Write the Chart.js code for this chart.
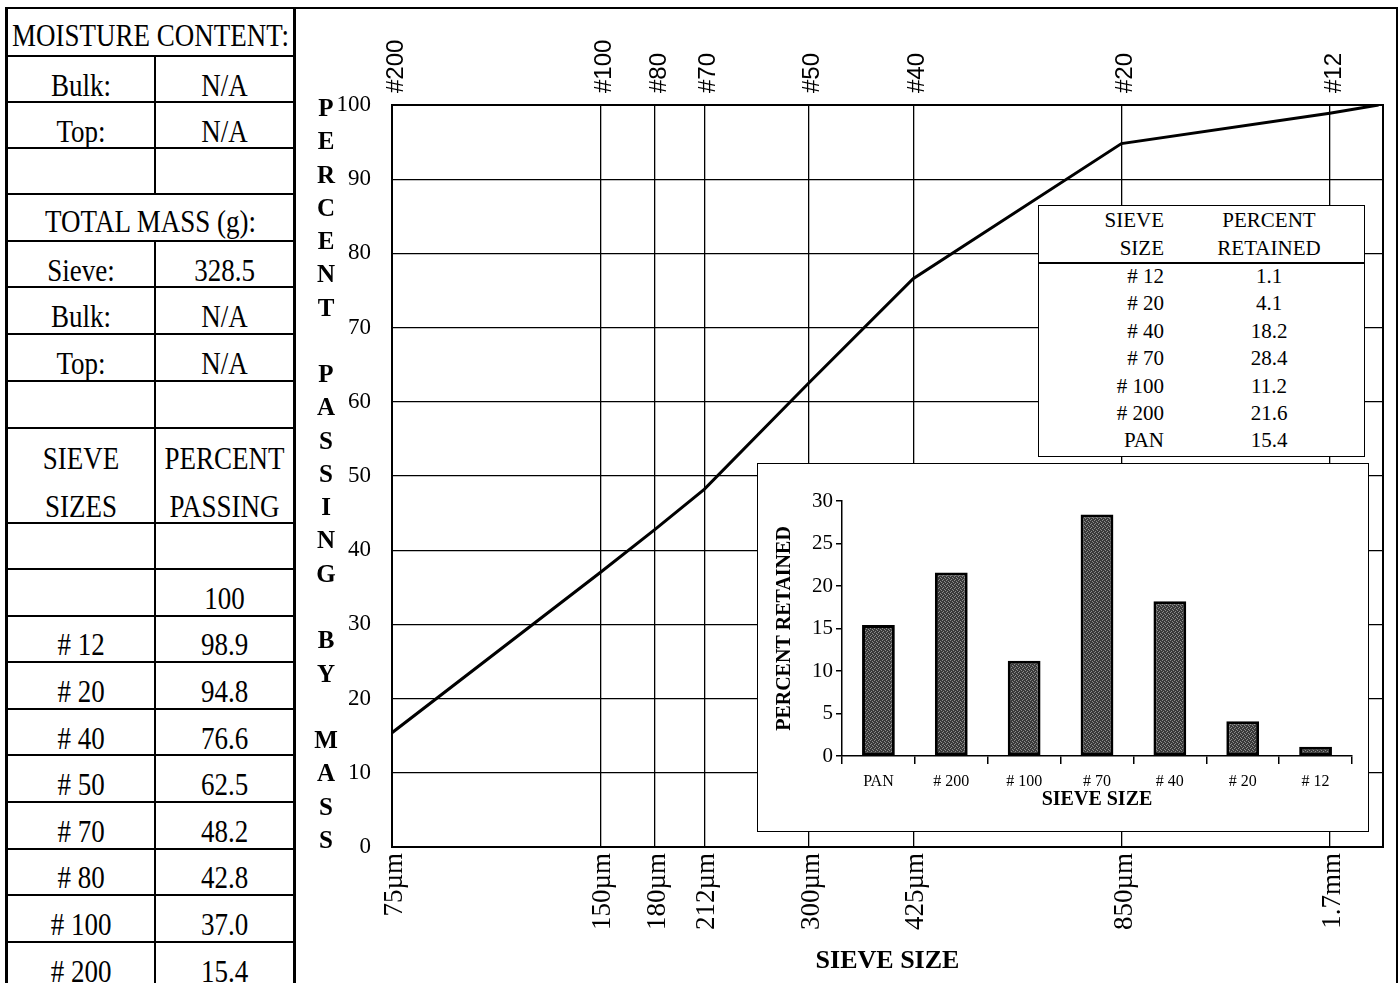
<!DOCTYPE html>
<html><head><meta charset="utf-8">
<script src="https://cdn.jsdelivr.net/npm/chart.js@4.4.1/dist/chart.umd.min.js"></script>
<style>
html,body{margin:0;padding:0;background:#fff;}
body{width:1398px;height:983px;position:relative;overflow:hidden;font-family:"Liberation Serif","Times New Roman",serif;color:#000;}
#frame{position:absolute;left:293px;top:7px;width:1100px;height:990px;border-left:3px solid #000;border-top:2px solid #000;border-right:2px solid #000;}
#tblLeft{position:absolute;left:5px;top:7px;width:3px;height:990px;background:#000;}
#tblTop{position:absolute;left:5px;top:7px;width:290px;height:2px;background:#000;}
.row{position:absolute;left:8px;width:285px;border-top:2px solid #000;box-sizing:border-box;}
.cell{position:absolute;top:0;bottom:0;display:flex;align-items:center;justify-content:center;font-size:27px;padding-top:12px;box-sizing:border-box;text-align:center;}
.cell span{display:inline-block;transform:scaleY(1.2);}
.two span{line-height:40px;}
.a{left:0;width:146px;}
.b{left:146px;width:139px;border-left:2px solid #000;}
.full{left:0;width:285px;}
#mainWrap{position:absolute;left:296px;top:10px;}
#ytitle{position:absolute;left:310px;top:91px;width:32px;text-align:center;font-weight:bold;font-size:25px;line-height:33.27px;}
#ytitle div{height:33.27px;}
#ret{position:absolute;left:1038px;top:205px;width:327px;height:252px;border:1px solid #000;background:#fff;box-sizing:border-box;font-size:21px;}
#ret .hl{position:absolute;left:0;width:325px;top:56px;height:2px;background:#000;}
#ret .t{position:absolute;line-height:27px;height:27px;}
#barBox{position:absolute;left:757px;top:463px;width:610px;height:367px;border:1px solid #000;background:#fff;}
</style>
</head><body>
<div id="frame"></div>
<div id="tblLeft"></div>
<div id="tblTop"></div>
<div id="leftTable"></div>
<div id="mainWrap"><canvas id="main" width="1100" height="973"></canvas></div>
<div id="ytitle"></div>
<div id="ret"></div>
<div id="barBox"><canvas id="bars" width="608" height="365"></canvas></div>
<script>
// ---------- data ----------
const sieveLabels = ['', '# 12', '# 20', '# 40', '# 50', '# 70', '# 80', '# 100', '# 200'];
const sieveSizesUm = [2000, 1700, 850, 425, 300, 212, 180, 150, 75];
const percentPassing = [100, 98.9, 94.8, 76.6, 62.5, 48.2, 42.8, 37.0, 15.4];
const gridSizesUm = [75, 150, 180, 212, 300, 425, 850, 1700];
const sizeTickLabels = ['75µm', '150µm', '180µm', '212µm', '300µm', '425µm', '850µm', '1.7mm'];
const sieveTickLabels = ['#200', '#100', '#80', '#70', '#50', '#40', '#20', '#12'];
const retainedSieves = ['PAN', '# 200', '# 100', '# 70', '# 40', '# 20', '# 12'];
const percentRetained = [15.4, 21.6, 11.2, 28.4, 18.2, 4.1, 1.1];
const moistureBulk = 'N/A', moistureTop = 'N/A';
const massSieve = '328.5', massBulk = 'N/A', massTop = 'N/A';
const yTitle = 'PERCENT PASSING BY MASS';

// ---------- left table ----------
const fmt = v => v === 100 ? '100' : v.toFixed(1);
const rows = [
  {top: 7, h: 48, full: 'MOISTURE CONTENT:'},
  {top: 55, h: 46, a: 'Bulk:', b: moistureBulk},
  {top: 101, h: 46, a: 'Top:', b: moistureTop},
  {top: 147, h: 46, a: '', b: ''},
  {top: 193, h: 47, full: 'TOTAL MASS (g):'},
  {top: 240, h: 46, a: 'Sieve:', b: massSieve},
  {top: 286, h: 47, a: 'Bulk:', b: massBulk},
  {top: 333, h: 47, a: 'Top:', b: massTop},
  {top: 380, h: 47, a: '', b: ''},
  {top: 427, h: 95, a: 'SIEVE<br>SIZES', b: 'PERCENT<br>PASSING', two: true},
  {top: 522, h: 46, a: '', b: ''}
];
sieveLabels.forEach((s, i) => rows.push({top: 568 + i * 46.6, h: 46.6, a: s, b: fmt(percentPassing[i])}));
const lt = document.getElementById('leftTable');
rows.forEach((r, i) => {
  const d = document.createElement('div');
  d.className = 'row';
  d.style.top = r.top + 'px';
  d.style.height = r.h + 'px';
  if (i === 0) d.style.borderTop = 'none';
  if (r.full !== undefined) {
    d.innerHTML = '<div class="cell full" style="padding-top:8px"><span>' + r.full + '</span></div>';
  } else {
    const cls = r.two ? ' two' : '';
    d.innerHTML = '<div class="cell a' + cls + '"><span>' + r.a + '</span></div><div class="cell b' + cls + '"><span>' + r.b + '</span></div>';
  }
  lt.appendChild(d);
});

// ---------- y title letters ----------
const yt = document.getElementById('ytitle');
yTitle.split('').forEach(ch => {
  const d = document.createElement('div');
  d.textContent = ch === ' ' ? '\u00a0' : ch;
  yt.appendChild(d);
});

// ---------- retained table ----------
const ret = document.getElementById('ret');
let html = '<div class="hl"></div>';
html += '<div class="t" style="left:0;width:125px;text-align:right;top:1px">SIEVE</div>';
html += '<div class="t" style="left:0;width:125px;text-align:right;top:29px">SIZE</div>';
html += '<div class="t" style="left:150px;width:160px;text-align:center;top:1px">PERCENT</div>';
html += '<div class="t" style="left:150px;width:160px;text-align:center;top:29px">RETAINED</div>';
const rs = retainedSieves.slice().reverse(), rv = percentRetained.slice().reverse();
rs.forEach((s, i) => {
  const top = 57 + i * 27.4;
  html += '<div class="t" style="left:0;width:125px;text-align:right;top:' + top + 'px">' + s + '</div>';
  html += '<div class="t" style="left:150px;width:160px;text-align:center;top:' + top + 'px">' + rv[i].toFixed(1) + '</div>';
});
ret.innerHTML = html;

// ---------- main chart ----------
Chart.defaults.font.family = "'Liberation Serif', 'Times New Roman', serif";
Chart.defaults.color = '#000';
const setTicks = s => { s.ticks = gridSizesUm.map(v => ({value: v})); };
const xMin = 75, xMax = 2030;
new Chart(document.getElementById('main'), {
  type: 'line',
  data: {
    datasets: [{
      data: sieveSizesUm.map((s, i) => ({x: s, y: percentPassing[i]})),
      borderColor: '#000', borderWidth: 3, pointRadius: 0, tension: 0, fill: false
    }]
  },
  options: {
    responsive: false, animation: false, devicePixelRatio: 1,
    layout: {padding: 0},
    plugins: {legend: {display: false}, tooltip: {enabled: false}},
    scales: {
      x: {
        type: 'logarithmic', position: 'bottom', min: xMin, max: xMax,
        afterBuildTicks: setTicks,
        afterFit: s => { s.height = 136; },
        ticks: {autoSkip: false, minRotation: 90, maxRotation: 90, padding: 6, labelOffset: 3,
          font: {size: 27}, color: '#000', callback: (v, i) => sizeTickLabels[i]},
        grid: {color: '#000', lineWidth: 1.3, drawTicks: false},
        border: {color: '#000', width: 2},
        title: {display: true, text: 'SIEVE SIZE', color: '#000',
          font: {size: 26, weight: 'bold'}, padding: {top: 0, bottom: 6}}
      },
      x2: {
        type: 'logarithmic', position: 'top', min: xMin, max: xMax,
        afterBuildTicks: setTicks,
        afterFit: s => { s.height = 95; },
        ticks: {autoSkip: false, minRotation: 90, maxRotation: 90, padding: 4, labelOffset: 33,
          font: {family: "'Liberation Sans', Arial, sans-serif", size: 24}, color: '#000',
          callback: (v, i) => sieveTickLabels[i]},
        grid: {display: false},
        border: {display: true, color: '#000', width: 2}
      },
      y: {
        min: 0, max: 100,
        afterFit: s => { s.width = 96; },
        ticks: {stepSize: 10, padding: 21, font: {size: 23}, color: '#000'},
        grid: {color: '#000', lineWidth: 1.3, drawTicks: false},
        border: {color: '#000', width: 2}
      },
      y2: {
        position: 'right', min: 0, max: 100,
        afterFit: s => { s.width = 13; },
        ticks: {display: false},
        grid: {display: false},
        border: {display: true, color: '#000', width: 2}
      }
    }
  }
});

// ---------- inset bar chart ----------
function makePattern() {
  const c = document.createElement('canvas');
  c.width = 4; c.height = 4;
  const g = c.getContext('2d');
  g.fillStyle = '#3a3a3a'; g.fillRect(0, 0, 4, 4);
  g.fillStyle = '#8c8c8c';
  [[0, 0], [2, 1], [1, 3], [3, 2]].forEach(([x, y]) => g.fillRect(x, y, 1, 1));
  return g.createPattern(c, 'repeat');
}
new Chart(document.getElementById('bars'), {
  type: 'bar',
  data: {
    labels: retainedSieves,
    datasets: [{data: percentRetained, backgroundColor: makePattern(), borderColor: '#000',
      borderWidth: 3, borderSkipped: false, categoryPercentage: 1, barPercentage: 0.45}]
  },
  options: {
    responsive: false, animation: false, devicePixelRatio: 1,
    layout: {padding: {top: 37, right: 14, left: 0, bottom: 0}},
    plugins: {legend: {display: false}, tooltip: {enabled: false}},
    scales: {
      x: {
        afterFit: s => { s.height = 73; },
        ticks: {font: {size: 16}, color: '#000', padding: 8},
        grid: {drawOnChartArea: false, color: '#000', tickLength: 8, lineWidth: 1.5, offset: true},
        border: {color: '#000', width: 1.5},
        title: {display: true, text: 'SIEVE SIZE', color: '#000', font: {size: 20, weight: 'bold'},
          padding: {top: 0, bottom: 17}}
      },
      y: {
        min: 0, max: 30,
        afterFit: s => { s.width = 84; },
        ticks: {stepSize: 5, font: {size: 21}, color: '#000', padding: 3},
        grid: {drawOnChartArea: false, color: '#000', tickLength: 6, lineWidth: 1.5},
        border: {color: '#000', width: 1.5},
        title: {display: true, text: 'PERCENT RETAINED', color: '#000', font: {size: 20, weight: 'bold'},
          padding: {top: 15, bottom: 0}}
      }
    }
  }
});
</script>
</body></html>
